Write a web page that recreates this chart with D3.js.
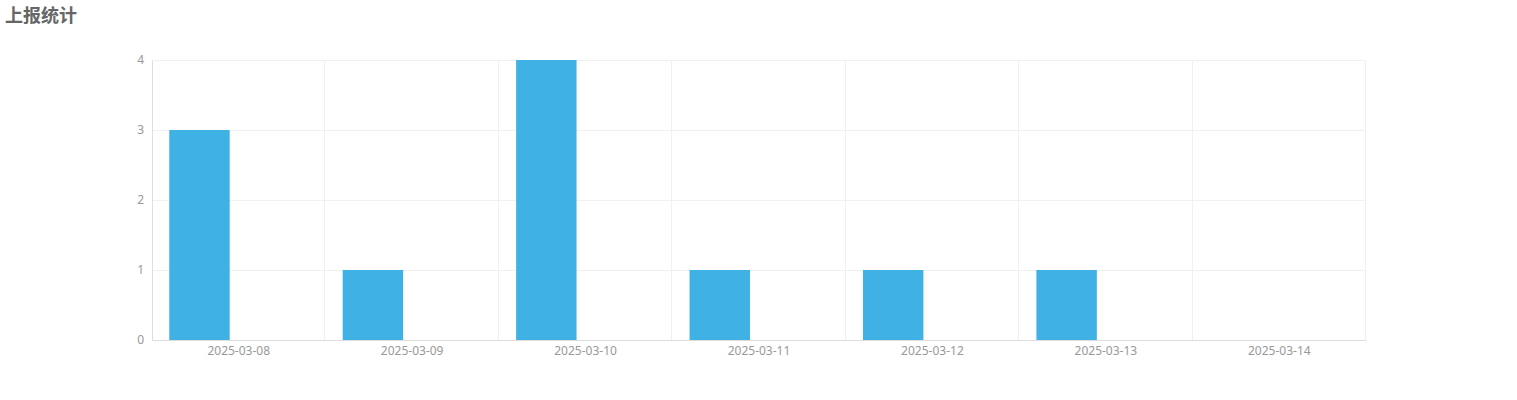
<!DOCTYPE html>
<html>
<head>
<meta charset="utf-8">
<script src="https://cdn.jsdelivr.net/npm/d3@7"></script>
<style>
  body { margin: 0; background: #fff; font-family: "Noto Sans CJK SC", "Noto Sans", sans-serif; }
  .title { position: absolute; left: 5px; top: 1px; font-size: 18px; font-weight: bold; color: #666; }
  .tick text { fill: #999; font-size: 12px; font-family: "Noto Sans", sans-serif; }
</style>
</head>
<body>
<div class="title">上报统计</div>
<script>
// data
var dates = ["2025-03-08", "2025-03-09", "2025-03-10", "2025-03-11", "2025-03-12", "2025-03-13", "2025-03-14"];
var reports = [3, 1, 4, 1, 1, 1, 0];
var others = [0, 0, 0, 0, 0, 0, 0];
var yTicks = [0, 1, 2, 3, 4];

var margin = {top: 60, right: 151, bottom: 60, left: 152},
    width = 1517 - margin.left - margin.right,
    height = 400 - margin.top - margin.bottom;

var svg = d3.select("body").append("svg")
    .attr("width", 1517).attr("height", 400)
  .append("g")
    .attr("transform", "translate(" + margin.left + "," + margin.top + ")");

var x = d3.scaleBand().domain(dates).range([0, width]);
var x1 = d3.scaleBand().domain(["reports", "others"]).range([0, x.bandwidth()])
    .paddingInner(0.23).paddingOuter(0.22);
var y = d3.scaleLinear().domain([0, 4]).range([height, 0]);

// horizontal gridlines
svg.append("g").selectAll("line")
    .data(yTicks.slice(1))
    .enter().append("line")
    .attr("x1", 0).attr("x2", width)
    .attr("y1", function(d) { return Math.round(y(d)) + 0.5; })
    .attr("y2", function(d) { return Math.round(y(d)) + 0.5; })
    .attr("stroke", "#f0f0f0");

// vertical gridlines at band edges
svg.append("g").selectAll("line")
    .data(dates.slice(1).concat(["end"]))
    .enter().append("line")
    .attr("x1", function(d, i) { return Math.round(i < dates.length - 1 ? x(d) : width) - 0.5; })
    .attr("x2", function(d, i) { return Math.round(i < dates.length - 1 ? x(d) : width) - 0.5; })
    .attr("y1", 0).attr("y2", height)
    .attr("stroke", "#f0f0f0");

// bars
var series = [{key: "reports", values: reports, color: "#40b1e4"},
              {key: "others", values: others, color: "#e6a23c"}];
series.forEach(function(s) {
  svg.append("g").selectAll("rect")
      .data(s.values)
      .enter().append("rect")
      .attr("x", function(d, i) { return x(dates[i]) + x1(s.key); })
      .attr("width", x1.bandwidth())
      .attr("y", function(d) { return y(d); })
      .attr("height", function(d) { return height - y(d); })
      .attr("fill", s.color);
});

// x axis
var xAxis = svg.append("g")
    .attr("transform", "translate(0," + height + ")")
    .call(d3.axisBottom(x).tickSize(0).tickPadding(6));
xAxis.select(".domain").attr("stroke", "#ddd");

// y axis
var yAxis = svg.append("g")
    .call(d3.axisLeft(y).tickValues(yTicks).tickFormat(d3.format("d")).tickSize(0).tickPadding(8));
yAxis.select(".domain").attr("stroke", "#ddd");
</script>
</body>
</html>
